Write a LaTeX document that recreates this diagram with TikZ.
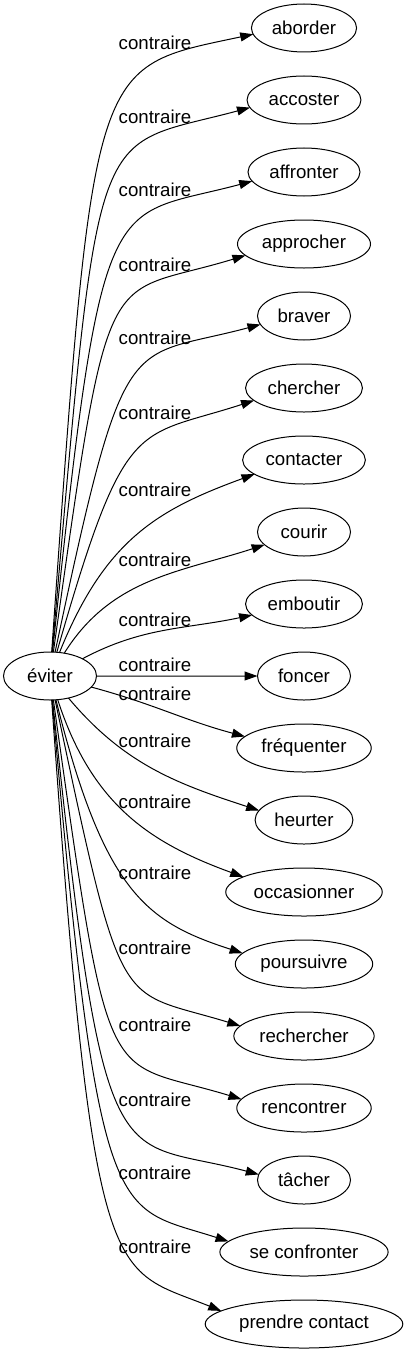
\documentclass[tikz,border=0pt]{standalone}
\usepackage{fontspec}
\setmainfont{Liberation Sans}
\usepackage{tikz}
\usetikzlibrary{positioning,shapes.geometric,arrows.meta}
\tikzstyle{word}=[draw,ellipse,line width=1bp,minimum width=93bp,minimum height=48bp,inner xsep=5bp,inner ysep=3bp,outer sep=0pt]
\tikzstyle{relation}=[inner sep=0pt]

\begin{document}
\begin{tikzpicture}[x=1bp,y=1bp,line width=1bp,>={Triangle[length=13bp,width=9bp]},node distance=24bp,font=\fontsize{18.67bp}{22bp}\selectfont]
\useasboundingbox (0,0) rectangle (404,-1355);

\node [word] (eviter) at (50,-676) {éviter};

\node [word] (aborder) at (304,-28) {aborder};
\node [word] [below=of aborder] (accoster) {accoster};
\node [word] [below=of accoster] (affronter) {affronter};
\node [word] [below=of affronter] (approcher) {approcher};
\node [word] [below=of approcher] (braver) {braver};
\node [word] [below=of braver] (chercher) {chercher};
\node [word] [below=of chercher] (contacter) {contacter};
\node [word] [below=of contacter] (courir) {courir};
\node [word] [below=of courir] (emboutir) {emboutir};
\node [word] [below=of emboutir] (foncer) {foncer};
\node [word] [below=of foncer] (frequenter) {fréquenter};
\node [word] [below=of frequenter] (heurter) {heurter};
\node [word] [below=of heurter] (occasionner) {occasionner};
\node [word] [below=of occasionner] (poursuivre) {poursuivre};
\node [word] [below=of poursuivre] (rechercher) {rechercher};
\node [word] [below=of rechercher] (rencontrer) {rencontrer};
\node [word] [below=of rencontrer] (tacher) {tâcher};
\node [word] [below=of tacher] (confronter) {se confronter};
\node [word] [below=of confronter] (contact) {prendre contact};

% labels
\node [relation] (c1) at (155,-43) {contraire};
\node [relation] (c2) at (155,-117) {contraire};
\node [relation] (c3) at (155,-190) {contraire};
\node [relation] (c4) at (155,-265) {contraire};
\node [relation] (c5) at (155,-338) {contraire};
\node [relation] (c6) at (155,-413) {contraire};
\node [relation] (c7) at (155,-490) {contraire};
\node [relation] (c8) at (155,-560) {contraire};
\node [relation] (c9) at (155,-620) {contraire};
\node [relation] (c10) at (155,-665) {contraire};
\node [relation] (c11) at (155,-694) {contraire};
\node [relation] (c12) at (155,-741) {contraire};
\node [relation] (c13) at (155,-802) {contraire};
\node [relation] (c14) at (155,-873) {contraire};
\node [relation] (c15) at (155,-948) {contraire};
\node [relation] (c16) at (155,-1025) {contraire};
\node [relation] (c17) at (155,-1100) {contraire};
\node [relation] (c18) at (155,-1173) {contraire};
\node [relation] (c19) at (155,-1247) {contraire};

\draw [->] (eviter) to [out=86,in=192,out distance=600bp,in distance=165bp] (aborder.187);
\draw [->] (eviter) to [out=85,in=195,out distance=550bp,in distance=165bp] (accoster.188);
\draw [->] (eviter) to [out=84,in=195,out distance=480bp,in distance=150bp] (affronter.190);
\draw [->] (eviter) to [out=82,in=197,out distance=410bp,in distance=150bp] (approcher.191);
\draw [->] (eviter) to [out=78,in=195,out distance=340bp,in distance=140bp] (braver.191);
\draw [->] (eviter) to [out=74,in=198,out distance=250bp,in distance=125bp] (chercher.194);
\draw [->] (eviter) to [out=68,in=200,out distance=120bp,in distance=105bp] (contacter.196);
\draw [->] (eviter) to [out=58,in=198] (courir.198);
\draw [->] (eviter) to [out=28,in=192] (emboutir.192);
\draw [->] (eviter) -- (foncer);
\draw [->] (eviter) to [out=-15,in=165] (frequenter.169);
\draw [->] (eviter) to [out=-50,in=162] (heurter.168);
\draw [->] (eviter) to [out=-72,in=160,out distance=110bp,in distance=100bp] (occasionner.166);
\draw [->] (eviter) to [out=-76,in=162,out distance=200bp,in distance=100bp] (poursuivre.170);
\draw [->] (eviter) to [out=-78,in=163,out distance=330bp,in distance=130bp] (rechercher.171);
\draw [->] (eviter) to [out=-82,in=163,out distance=410bp,in distance=145bp] (rencontrer.172);
\draw [->] (eviter) to [out=-84,in=165,out distance=500bp,in distance=150bp] (tacher.173);
\draw [->] (eviter) to [out=-85,in=162,out distance=540bp,in distance=120bp] (confronter.172);
\draw [->] (eviter) to [out=-86,in=158,out distance=600bp,in distance=120bp] (contact.171);
\end{tikzpicture}
\end{document}
